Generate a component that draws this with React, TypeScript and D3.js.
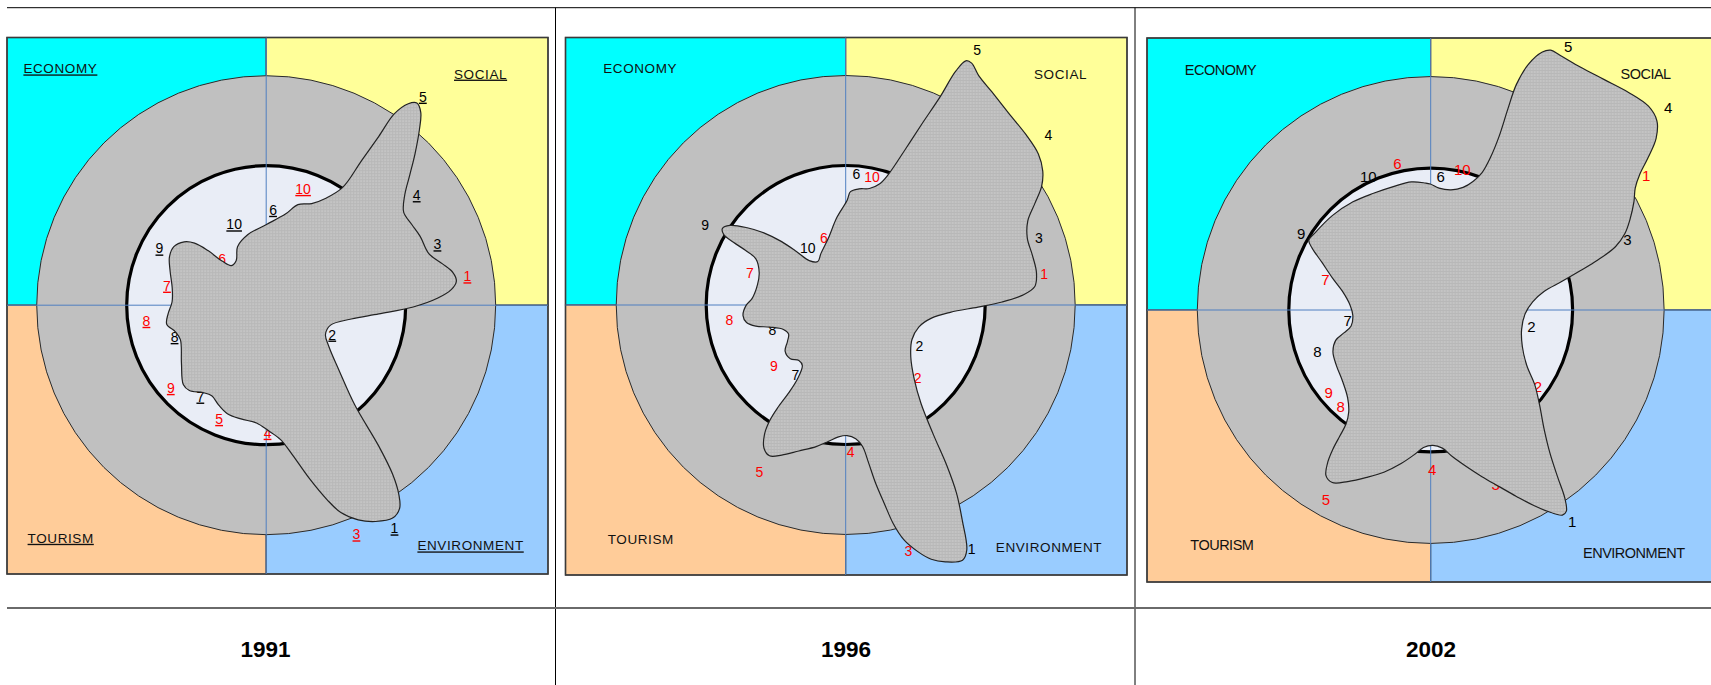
import React from "react";
import * as d3 from "d3";

// ---------- DATA ----------
const YEARS = ["1991", "1996", "2002"];
const QUADRANT_NAMES = ["ECONOMY", "SOCIAL", "TOURISM", "ENVIRONMENT"];
const QUADRANT_COLORS = ["#00FFFF", "#FFFF99", "#FFCC99", "#99CCFF"];
const INDICATOR_IDS = ["1", "2", "3", "4", "5", "6", "7", "8", "9", "10"];
const REFERENCE_VALUE = 1; // thick circle
const LIMIT_VALUE = 1.645; // outer circle

// indicator positions: [angle (deg, clockwise from north), value relative to reference]
const BLACK_1991 = [[150.1, 1.845], [113.9, 0.518], [70.4, 1.303], [53.8, 1.337], [36.9, 1.87], [4.1, 0.686], [215.8, 0.807], [250.9, 0.695], [298.0, 0.867], [338.4, 0.624]];
const RED_1991 = [[81.8, 1.457], [130.0, 0.55], [158.5, 1.765], [179.4, 0.914], [202.5, 0.882], [316.1, 0.456], [281.2, 0.725], [262.6, 0.866], [229.1, 0.905], [17.6, 0.875]];
const BLACK_1996 = [[152.7, 1.968], [119.1, 0.605], [70.9, 1.466], [50.1, 1.895], [27.3, 2.054], [4.7, 0.939], [215.7, 0.617], [251.1, 0.556], [299.6, 1.159], [326.5, 0.492]];
const RED_1996 = [[81.2, 1.439], [135.3, 0.733], [165.7, 1.817], [178.1, 1.057], [207.4, 1.346], [342.0, 0.504], [288.3, 0.723], [262.9, 0.841], [229.8, 0.673], [11.6, 0.935]];
const BLACK_2002 = [[146.2, 1.791], [99.5, 0.719], [70.3, 1.472], [49.5, 2.2], [27.6, 2.092], [4.3, 0.942], [262.7, 0.59], [249.8, 0.851], [300.6, 1.06], [334.9, 1.037]];
const RED_2002 = [[58.0, 1.791], [125.4, 0.926], [159.6, 1.316], [179.5, 1.124], [208.9, 1.527], [347.2, 1.055], [286.2, 0.773], [222.9, 0.931], [231.1, 0.923], [12.7, 1.015]];

// amoeba outlines: [angle (deg), value]
const AMOEBA_1991 = [
  [0.5, 0.58], [12.1, 0.67], [17.5, 0.756], [24.1, 0.798], [29.0, 0.875], [33.0, 1.007], [33.4, 1.242], [33.7, 1.455],
  [33.8, 1.65], [35.2, 1.767], [36.7, 1.807], [38.7, 1.772], [41.1, 1.671], [44.5, 1.522], [47.7, 1.393], [51.5, 1.269],
  [55.9, 1.19], [60.9, 1.193], [65.9, 1.209], [72.4, 1.223], [76.8, 1.298], [80.1, 1.359], [82.8, 1.374], [85.2, 1.331],
  [87.7, 1.228], [90.7, 1.054], [94.4, 0.81], [99.2, 0.618], [107.2, 0.483], [116.3, 0.474], [123.4, 0.538], [131.9, 0.703],
  [138.4, 0.957], [141.4, 1.295], [143.2, 1.512], [145.0, 1.658], [146.7, 1.742], [149.3, 1.775], [153.2, 1.737], [156.8, 1.674],
  [160.2, 1.58], [162.6, 1.462], [165.9, 1.286], [170.0, 1.091], [173.9, 0.969], [178.9, 0.901], [184.7, 0.847], [192.5, 0.835],
  [199.7, 0.826], [205.4, 0.793], [211.0, 0.758], [215.8, 0.773], [222.0, 0.823], [226.3, 0.822], [235.4, 0.738], [248.1, 0.663],
  [253.5, 0.677], [259.2, 0.726], [265.0, 0.706], [272.1, 0.675], [280.4, 0.685], [289.7, 0.732], [296.5, 0.775], [302.4, 0.784],
  [307.7, 0.743], [310.9, 0.679], [313.2, 0.569], [315.0, 0.447], [318.7, 0.378], [326.2, 0.386], [333.9, 0.467], [345.5, 0.523]
];
const AMOEBA_1996 = [
  [0.8, 0.751], [2.4, 0.813], [6.6, 0.838], [11.5, 0.852], [15.7, 0.903], [18.1, 0.985], [21.0, 1.2], [22.9, 1.418],
  [24.4, 1.638], [25.2, 1.852], [26.2, 1.951], [27.5, 1.955], [30.1, 1.901], [34.4, 1.853], [40.4, 1.804], [46.7, 1.778],
  [51.9, 1.755], [55.8, 1.708], [58.8, 1.642], [61.8, 1.538], [65.2, 1.438], [69.8, 1.387], [75.1, 1.385], [80.4, 1.387],
  [84.4, 1.362], [86.8, 1.271], [88.9, 1.121], [90.9, 0.948], [94.0, 0.752], [98.7, 0.622], [106.8, 0.547], [117.7, 0.536],
  [128.6, 0.597], [137.3, 0.725], [142.6, 0.889], [145.9, 1.12], [147.8, 1.36], [149.5, 1.565], [151.6, 1.758], [153.7, 1.959],
  [155.4, 2.012], [158.8, 1.975], [161.4, 1.923], [163.7, 1.842], [166.1, 1.733], [167.7, 1.607], [169.0, 1.449], [170.5, 1.292],
  [171.8, 1.138], [173.2, 1.022], [175.7, 0.961], [179.4, 0.936], [183.1, 0.947], [187.3, 0.986], [191.8, 1.037], [197.8, 1.099],
  [203.1, 1.17], [206.8, 1.211], [209.7, 1.182], [212.1, 1.096], [213.3, 0.993], [213.5, 0.877], [213.0, 0.753], [213.1, 0.637],
  [215.6, 0.534], [220.2, 0.52], [225.9, 0.553], [232.7, 0.546], [237.9, 0.493], [243.2, 0.459], [248.6, 0.48], [253.8, 0.568],
  [256.8, 0.662], [260.0, 0.722], [264.1, 0.74], [269.8, 0.714], [273.9, 0.673], [283.0, 0.649], [290.5, 0.662], [297.2, 0.724],
  [298.6, 0.819], [299.2, 0.922], [300.0, 1.009], [301.8, 1.04], [304.5, 1.007], [308.1, 0.897], [311.5, 0.778], [314.7, 0.646],
  [317.5, 0.516], [320.6, 0.412], [327.3, 0.37], [334.2, 0.409], [345.1, 0.491], [354.2, 0.63]
];
const AMOEBA_2002 = [
  [359.8, 0.888], [3.9, 0.861], [9.6, 0.859], [14.8, 0.894], [18.3, 0.956], [20.5, 1.034], [21.4, 1.158], [21.5, 1.315],
  [21.0, 1.518], [20.8, 1.699], [21.7, 1.865], [23.4, 1.981], [24.8, 2.017], [27.0, 2.013], [31.6, 2.011], [37.0, 2.033],
  [42.2, 2.072], [46.9, 2.102], [50.1, 2.078], [52.7, 1.997], [54.9, 1.875], [57.0, 1.757], [59.2, 1.678], [62.0, 1.622],
  [65.5, 1.544], [68.5, 1.471], [71.1, 1.376], [73.4, 1.226], [75.3, 1.089], [77.8, 0.941], [80.7, 0.809], [85.4, 0.721],
  [92.3, 0.666], [102.0, 0.655], [111.7, 0.695], [120.0, 0.782], [125.6, 0.901], [131.1, 1.018], [136.4, 1.159], [140.2, 1.313],
  [142.8, 1.481], [144.5, 1.627], [146.0, 1.71], [147.3, 1.718], [149.3, 1.66], [152.2, 1.558], [155.3, 1.446], [158.8, 1.335],
  [162.9, 1.229], [167.3, 1.129], [171.5, 1.046], [175.2, 0.977], [179.1, 0.954], [183.0, 0.97], [186.3, 1.023], [190.9, 1.102],
  [196.1, 1.19], [200.9, 1.263], [205.8, 1.343], [209.7, 1.4], [212.3, 1.381], [214.1, 1.293], [215.1, 1.199], [215.8, 1.095],
  [216.6, 1.001], [218.8, 0.922], [223.3, 0.853], [231.2, 0.798], [239.6, 0.771], [246.9, 0.749], [252.3, 0.703], [255.3, 0.63],
  [258.7, 0.572], [266.0, 0.55], [273.4, 0.569], [281.9, 0.635], [288.2, 0.731], [293.7, 0.838], [297.5, 0.941], [299.7, 0.989],
  [303.7, 0.98], [313.8, 0.961], [324.3, 0.939], [333.9, 0.916], [343.5, 0.909], [351.4, 0.913], [357.5, 0.896]
];

const BLACK_SETS = [BLACK_1991, BLACK_1996, BLACK_2002];
const RED_SETS = [RED_1991, RED_1996, RED_2002];
const AMOEBAS = [AMOEBA_1991, AMOEBA_1996, AMOEBA_2002];

// ---------- LAYOUT ----------
const W = 1711;
const H = 685;
const FONT = "'Liberation Sans', Arial, Helvetica, sans-serif";

const LAYOUTS = [
  {
    cx: 266.2, cy: 305.2, R: 139.5, box: [7, 37.5, 548, 574], underline: true, catSize: 13.5, catSpacing: 0.6, numSize: 14,
    cat: [[23.4, 73.4], [454, 78.6], [27.6, 542.8], [417.4, 550.4]]
  },
  {
    cx: 845.7, cy: 305, R: 139.5, box: [565.5, 37.5, 1127, 575], underline: false, catSize: 13.5, catSpacing: 0.6, numSize: 14,
    cat: [[603.2, 72.9], [1034, 78.7], [607.7, 544], [995.8, 552.3]]
  },
  {
    cx: 1430.7, cy: 310, R: 141.9, box: [1147, 38, 1730, 582], underline: false, catSize: 14.5, catSpacing: -0.5, numSize: 15,
    cat: [[1184.8, 75.1], [1620.5, 78.6], [1190.3, 549.7], [1583, 558.3]]
  }
];
const YEAR_X = [265.5, 846, 1431];

const rad = (deg: number) => (deg * Math.PI) / 180;

function Panel({ idx }: { idx: number }) {
  const L = LAYOUTS[idx];
  const [x0, y0, x1, y1] = L.box;
  const r = d3.scaleLinear().domain([0, 1]).range([0, L.R]);
  const line = d3
    .lineRadial<number[]>()
    .angle((d) => rad(d[0]))
    .radius((d) => r(d[1]))
    .curve(d3.curveCatmullRomClosed.alpha(0.5));
  const quads = [
    [x0, y0, L.cx - x0, L.cy - y0],
    [L.cx, y0, x1 - L.cx, L.cy - y0],
    [x0, L.cy, L.cx - x0, y1 - L.cy],
    [L.cx, L.cy, x1 - L.cx, y1 - L.cy]
  ];
  const labels = [
    ...BLACK_SETS[idx].map((d, i) => ({ id: INDICATOR_IDS[i], d, color: "#000000" })),
    ...RED_SETS[idx].map((d, i) => ({ id: INDICATOR_IDS[i], d, color: "#FF0000" }))
  ];
  return (
    <g>
      {quads.map((q, i) => (
        <rect key={i} x={q[0]} y={q[1]} width={q[2]} height={q[3]} fill={QUADRANT_COLORS[i]} stroke="#4a4a4a" strokeWidth={1.2} />
      ))}
      <rect x={x0} y={y0} width={x1 - x0} height={y1 - y0} fill="none" stroke="#3a3a3a" strokeWidth={1.5} />
      {QUADRANT_NAMES.map((name, i) => (
        <text
          key={name}
          x={L.cat[i][0]}
          y={L.cat[i][1]}
          fontFamily={FONT}
          fontSize={L.catSize}
          letterSpacing={L.catSpacing}
          fill="#111"
          textDecoration={L.underline ? "underline" : undefined}
        >
          {name}
        </text>
      ))}
      <circle cx={L.cx} cy={L.cy} r={r(LIMIT_VALUE)} fill="#C0C0C0" stroke="#2a2a2a" strokeWidth={1} />
      <circle cx={L.cx} cy={L.cy} r={r(REFERENCE_VALUE)} fill="#E9EDF6" stroke="#000" strokeWidth={3.2} />
      <line x1={L.cx} x2={L.cx} y1={y0} y2={y1} stroke="#4F7FC0" strokeWidth={1} />
      <line x1={x0} x2={x1} y1={L.cy} y2={L.cy} stroke="#4F7FC0" strokeWidth={1} />
      {labels.map((lb, i) => {
        const [px, py] = d3.pointRadial(rad(lb.d[0]), r(lb.d[1]));
        return (
          <text
            key={i}
            x={L.cx + px}
            y={L.cy + py}
            dy="0.36em"
            textAnchor="middle"
            fontFamily={FONT}
            fontSize={L.numSize}
            fill={lb.color}
            textDecoration={L.underline ? "underline" : undefined}
          >
            {lb.id}
          </text>
        );
      })}
      <g transform={`translate(${L.cx},${L.cy})`}>
        <path d={line(AMOEBAS[idx] as number[][]) || ""} fill="url(#amoebaFill)" stroke="#222" strokeWidth={1.2} strokeLinejoin="round" />
      </g>
    </g>
  );
}

export default function App() {
  return (
    <svg
      width={W}
      height={H}
      viewBox={`0 0 ${W} ${H}`}
      style={{ position: "absolute", left: 0, top: 0, background: "#fff" }}
    >
      <defs>
        <pattern id="amoebaFill" width={3} height={3} patternUnits="userSpaceOnUse">
          <rect width={3} height={3} fill="#C4C4C4" />
          <rect width={3} height={1} fill="#B8B8B8" />
          <rect width={1} height={3} fill="#B8B8B8" />
        </pattern>
      </defs>
      <rect x={0} y={0} width={W} height={H} fill="#fff" />
      {YEARS.map((y, i) => (
        <Panel key={y} idx={i} />
      ))}
      <line x1={7} x2={W} y1={7.7} y2={7.7} stroke="#000" strokeWidth={1} />
      <line x1={555.5} x2={555.5} y1={7.7} y2={H} stroke="#000" strokeWidth={1} />
      <line x1={1135} x2={1135} y1={7.7} y2={H} stroke="#000" strokeWidth={1} />
      <line x1={7} x2={W} y1={608} y2={608} stroke="#6a6a6a" strokeWidth={2} />
      {YEARS.map((y, i) => (
        <text key={y} x={YEAR_X[i]} y={657.3} textAnchor="middle" fontFamily={FONT} fontWeight="bold" fontSize={22.5} fill="#000">
          {y}
        </text>
      ))}
    </svg>
  );
}
